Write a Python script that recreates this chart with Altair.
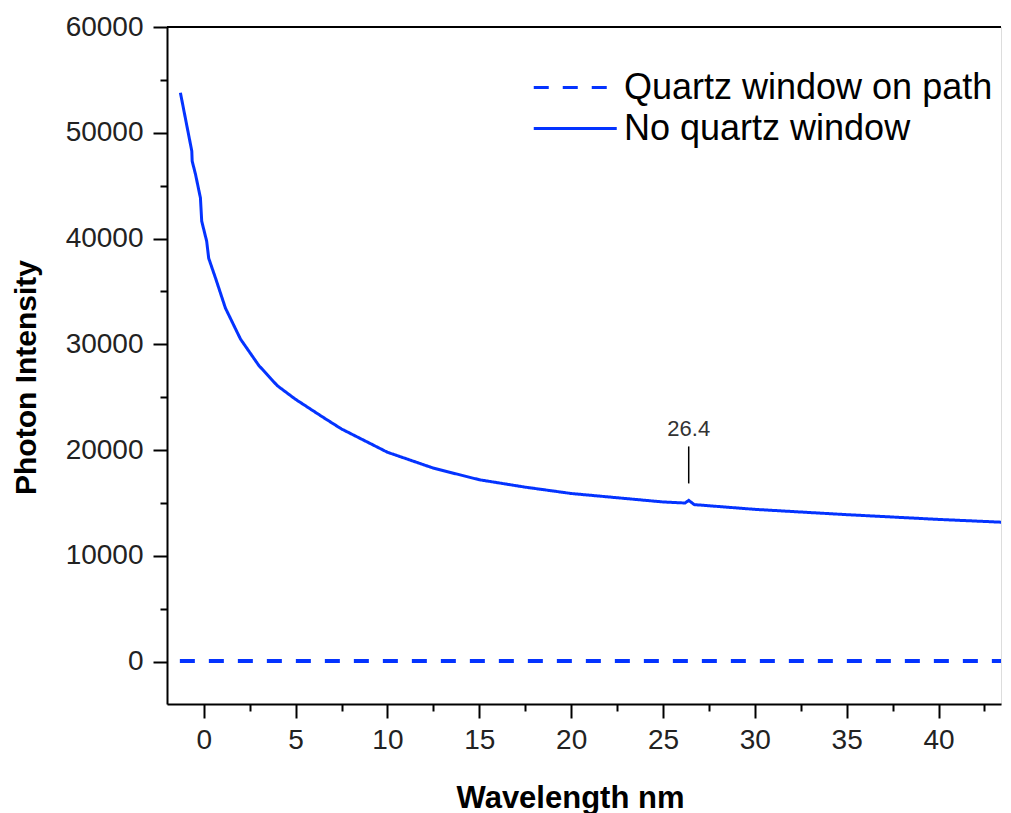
import altair as alt
import pandas as pd

# ---- data ----
no_quartz_x = [-1.27, -0.65, -0.63, -0.45, -0.18, -0.11, 0.16, 0.27, 0.64, 1.18,
               2.0, 3.0, 4.0, 5.0, 6.5, 7.5, 10.0, 12.5, 15.0, 17.5, 20.0, 22.5,
               25.0, 26.2, 26.4, 26.7, 30.0, 35.0, 40.0, 43.9]
no_quartz_y = [53780, 48270, 47320, 46090, 43840, 41640, 39750, 38140, 36270, 33430,
               30500, 28000, 26100, 24800, 23100, 22000, 19800, 18300, 17200, 16500,
               15900, 15500, 15100, 15000, 15250, 14850, 14400, 13900, 13450, 13150]

quartz_x = [-1.3, 5.0, 10.0, 20.0, 30.0, 43.9]
quartz_y = [60, 60, 60, 60, 60, 60]

series_names = ["Quartz window on path", "No quartz window"]

annot_x = [26.4]
annot_label = ["26.4"]
annot_text_y = [22000]
annot_rule_y = [16850]
annot_rule_y2 = [20350]

x_major = [0, 5, 10, 15, 20, 25, 30, 35, 40]
x_minor = [2.5, 7.5, 12.5, 17.5, 22.5, 27.5, 32.5, 37.5, 42.5]
y_major = [0, 10000, 20000, 30000, 40000, 50000, 60000]
y_minor = [5000, 15000, 25000, 35000, 45000, 55000]

x_domain = [-2, 43.4]
y_domain = [-4000, 60000]

BLUE = "#0433ff"
FONT = "Liberation Sans"

df = pd.concat([
    pd.DataFrame({"x": quartz_x, "y": quartz_y, "series": series_names[0]}),
    pd.DataFrame({"x": no_quartz_x, "y": no_quartz_y, "series": series_names[1]}),
], ignore_index=True)

annot = pd.DataFrame({"x": annot_x, "label": annot_label, "ty": annot_text_y,
                      "ry": annot_rule_y, "ry2": annot_rule_y2})

xscale = alt.Scale(domain=x_domain, nice=False, zero=False)
yscale = alt.Scale(domain=y_domain, nice=False, zero=False)


def legend():
    return alt.Legend(title=None, orient="none", legendX=365, legendY=38,
                      symbolType="M-1,0L3,0", symbolSize=1722,
                      symbolStrokeWidth=3, symbolFillColor="transparent",
                      labelFont=FONT, labelFontSize=36, labelColor="black",
                      labelOffset=47, rowPadding=0, padding=0,
                      labelLimit=600)


color = alt.Color("series:N",
                  scale=alt.Scale(domain=series_names, range=[BLUE, BLUE]),
                  sort=series_names, legend=legend())
dash = alt.StrokeDash("series:N",
                      scale=alt.Scale(domain=series_names, range=[[15, 14], [1, 0]]),
                      sort=series_names, legend=legend())

x_major_axis = alt.Axis(title="Wavelength nm", values=x_major, orient="bottom",
                        format="d", tickSize=14, tickWidth=2, tickColor="black",
                        domainWidth=2, domainColor="black", grid=False,
                        labelFont=FONT, labelFontSize=28, labelColor="#222",
                        labelPadding=8, titleFont=FONT, titleFontSize=31,
                        titleFontWeight="bold", titleColor="black", titlePadding=29,
                        titleX=403)
y_major_axis = alt.Axis(title="Photon Intensity", values=y_major, orient="left",
                        format="d", tickSize=14, tickWidth=2, tickColor="black",
                        domainWidth=2, domainColor="black", grid=False,
                        labelFont=FONT, labelFontSize=28, labelColor="#222",
                        labelPadding=10, titleFont=FONT, titleFontSize=30,
                        titleFontWeight="bold", titleColor="black", titlePadding=24,
                        titleY=350)

x_minor_axis = alt.Axis(title=None, values=x_minor, orient="bottom", labels=False,
                        tickSize=7, tickWidth=2, tickColor="black", domain=False,
                        grid=False)
y_minor_axis = alt.Axis(title=None, values=y_minor, orient="left", labels=False,
                        tickSize=7, tickWidth=2, tickColor="black", domain=False,
                        grid=False)

dashed = alt.Chart(df).transform_filter(
    alt.datum.series == series_names[0]
).mark_line(strokeWidth=4, strokeCap="butt", clip=True).encode(
    x=alt.X("x:Q", scale=xscale, axis=x_major_axis),
    y=alt.Y("y:Q", scale=yscale, axis=y_major_axis),
    color=color, strokeDash=dash, order="x:Q",
)

solid = alt.Chart(df).transform_filter(
    alt.datum.series == series_names[1]
).mark_line(strokeWidth=3, clip=True).encode(
    x=alt.X("x:Q", scale=xscale, axis=None),
    y=alt.Y("y:Q", scale=yscale, axis=None),
    color=color, strokeDash=dash, order="x:Q",
)

minor = alt.Chart(df).mark_point(opacity=0, clip=True).encode(
    x=alt.X("x:Q", scale=xscale, axis=x_minor_axis),
    y=alt.Y("y:Q", scale=yscale, axis=y_minor_axis),
)

top_border = alt.Chart(pd.DataFrame({"t": [y_domain[1]]})).mark_rule(
    color="black", strokeWidth=2).encode(y=alt.Y("t:Q", scale=yscale, axis=None))

annot_rule = alt.Chart(annot).mark_rule(color="black", strokeWidth=1.5).encode(
    x=alt.X("x:Q", scale=xscale, axis=None),
    y=alt.Y("ry:Q", scale=yscale, axis=None), y2="ry2:Q")
annot_text = alt.Chart(annot).mark_text(font=FONT, fontSize=22, color="#333",
                                        baseline="middle").encode(
    x=alt.X("x:Q", scale=xscale, axis=None),
    y=alt.Y("ty:Q", scale=yscale, axis=None), text="label:N")

chart = alt.layer(dashed, solid, minor, top_border, annot_rule, annot_text).resolve_axis(
    x="independent", y="independent"
).properties(
    width=834, height=677,
    padding={"left": 3, "top": 5, "right": 0, "bottom": 0},
).configure_view(stroke=None).configure(background="white")

chart.save("out.html", embed_options={"renderer": "svg", "actions": False})
